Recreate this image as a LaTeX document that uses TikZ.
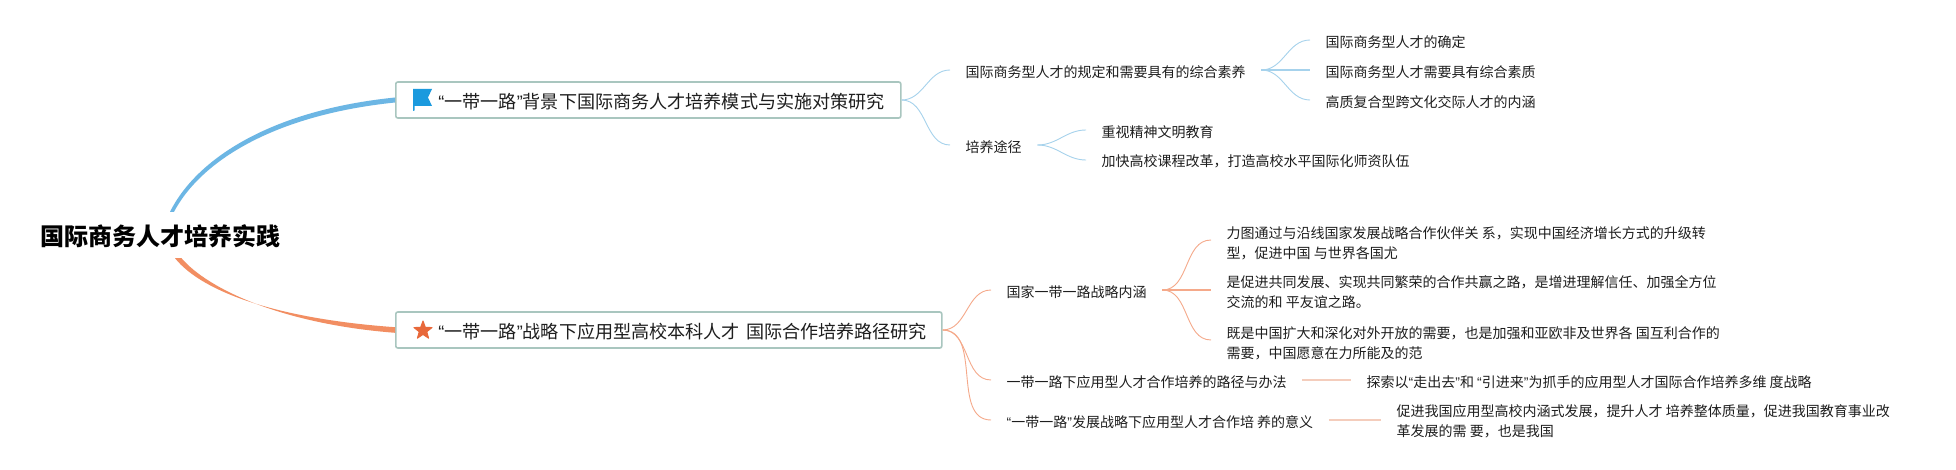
\documentclass[tikz,border=0pt]{standalone}
\usepackage{fontspec}
\setmainfont{Noto Sans CJK SC}
\newfontfamily\latinq{Liberation Sans}
\newcommand{\ql}{{\latinq “}}
\newcommand{\qr}{{\latinq ”}}
\usetikzlibrary{calc,shapes.geometric}
\definecolor{bluecurve}{HTML}{6CB6E4}
\definecolor{bluethin}{HTML}{A6D2EC}
\definecolor{orangecurve}{HTML}{F28E62}
\definecolor{orangethin}{HTML}{F5A98A}
\definecolor{paleline}{HTML}{F4CDBC}
\definecolor{boxline}{HTML}{A9C6BF}
\definecolor{flagblue}{HTML}{1B9ADE}
\definecolor{staror}{HTML}{E8683A}
\definecolor{ink}{HTML}{1E1E1E}
\tikzset{
  x=1pt,y=-1pt,
  topic/.style={anchor=west,inner xsep=15.5pt,inner ysep=0pt,align=left,text=ink,font=\fontsize{14}{20}\selectfont},
  mainbox/.style={draw=boxline,line width=1.6pt,rounded corners=2pt,fill=white,anchor=west,inner xsep=0pt,inner ysep=0pt,align=left,minimum height=36pt,text=ink,font=\fontsize{18.1}{22}\selectfont},
  rootnode/.style={inner sep=0pt,minimum height=46pt,text=black,font=\fontsize{24}{30}\bfseries\selectfont},
  thinblue/.style={draw=bluethin,line width=0.9pt},
  thinorange/.style={draw=orangethin,line width=0.9pt},
  flatblue/.style={draw=bluethin,line width=1.6pt},
  flatorange/.style={draw=paleline,line width=1.8pt},
}
\begin{document}
\begin{tikzpicture}
\useasboundingbox (0,0) rectangle (1956,470);
\fill[white] (0,0) rectangle (1956,470);

\node[rootnode] (root) at (160.5,235) {\raisebox{-10.8pt}[0pt][0pt]{国际商务人才培养实践}};

\node[mainbox,text width=505pt] (b1) at (395,100) {\hspace*{42.6pt}\raisebox{-8.5pt}[0pt][0pt]{\ql 一带一路\qr 背景下国际商务人才培养模式与实施对策研究}};
\node[mainbox,text width=546pt] (b2) at (395,330) {\hspace*{42.6pt}\raisebox{-8.5pt}[0pt][0pt]{\ql 一带一路\qr 战略下应用型高校本科人才 国际合作培养路径研究}};

% main tapered branches
\fill[bluecurve] ([xshift=9.5pt]root.north) .. controls (197,158) and (272,110) .. ([yshift=2.5pt]b1.west)
  -- ([yshift=-2.5pt]b1.west) .. controls (274,115) and (201,161) .. ([xshift=13.5pt]root.north) -- cycle;
\fill[orangecurve] ([xshift=14.5pt]root.south) .. controls (203,293) and (280,319) .. ([yshift=2.8pt]b2.west)
  -- ([yshift=-2.8pt]b2.west) .. controls (282,324) and (208,289) .. ([xshift=21pt]root.south) -- cycle;

% flag icon
\fill[flagblue] (413,89) -- (432,89) -- (428,97.5) -- (432,106) -- (414.6,106) -- (414.6,110.4) -- (413,111) -- cycle;
% star icon
\node[star,star points=5,star point ratio=2.4,fill=staror,draw=staror,line join=round,line width=1pt,minimum size=19pt,inner sep=0pt] (staricon) at (423,330.5) {};

% upper branch
\node[topic] (a1) at (950,71.7) {国际商务型人才的规定和需要具有的综合素养};
\node[topic] (a2) at (950,146.7) {培养途径};
\node[topic] (a11) at (1310,41.7) {国际商务型人才的确定};
\node[topic] (a12) at (1310,71.7) {国际商务型人才需要具有综合素质};
\node[topic] (a13) at (1310,101.7) {高质复合型跨文化交际人才的内涵};
\node[topic] (a21) at (1086,131.7) {重视精神文明教育};
\node[topic] (a22) at (1086,161.7) {加快高校课程改革，打造高校水平国际化师资队伍};

\draw[thinblue] (b1.east) to[out=0,in=180] ([yshift=1.7pt]a1.west);
\draw[thinblue] (b1.east) to[out=0,in=180] ([yshift=1.7pt]a2.west);
\draw[thinblue] ([yshift=1.7pt]a1.east) to[out=0,in=180] ([yshift=1.7pt]a11.west);
\draw[flatblue] ([yshift=1.7pt]a1.east) -- ([yshift=1.7pt]a12.west);
\draw[thinblue] ([yshift=1.7pt]a1.east) to[out=0,in=180] ([yshift=1.7pt]a13.west);
\draw[thinblue] ([yshift=1.7pt]a2.east) to[out=0,in=180] ([yshift=1.7pt]a21.west);
\draw[thinblue] ([yshift=1.7pt]a2.east) to[out=0,in=180] ([yshift=1.7pt]a22.west);

% lower branch
\node[topic] (c1) at (991,291.7) {国家一带一路战略内涵};
\node[topic] (c2) at (991,381.7) {一带一路下应用型人才合作培养的路径与办法};
\node[topic] (c3) at (991,421.7) {\ql 一带一路\qr 发展战略下应用型人才合作培 养的意义};
\node[topic] (c11) at (1211,243.2) {力图通过与沿线国家发展战略合作伙伴关 系，实现中国经济增长方式的升级转\\型，促进中国 与世界各国尤};
\node[topic] (c12) at (1211,292.2) {是促进共同发展、实现共同繁荣的合作共赢之路，是增进理解信任、加强全方位\\交流的和 平友谊之路。};
\node[topic] (c13) at (1211,343) {既是中国扩大和深化对外开放的需要，也是加强和亚欧非及世界各 国互利合作的\\需要，中国愿意在力所能及的范};
\node[topic] (c21) at (1351,381.7) {探索以\ql 走出去\qr 和 \ql 引进来\qr 为抓手的应用型人才国际合作培养多维 度战略};
\node[topic] (c31) at (1381,421.7) {促进我国应用型高校内涵式发展，提升人才 培养整体质量，促进我国教育事业改\\革发展的需 要，也是我国};

\draw[thinorange] (b2.east) to[out=0,in=180] ([yshift=1.7pt]c1.west);
\draw[thinorange] (b2.east) to[out=0,in=180] ([yshift=1.7pt]c2.west);
\draw[thinorange] (b2.east) to[out=0,in=180] ([yshift=1.7pt]c3.west);
\draw[thinorange] ([yshift=1.7pt]c1.east) to[out=0,in=180] ([yshift=3.2pt]c11.west);
\draw[flatorange,draw=orangethin,line width=1.4pt] ([yshift=1.7pt]c1.east) -- ([yshift=2.2pt]c12.west);
\draw[thinorange] ([yshift=1.7pt]c1.east) to[out=0,in=180] ([yshift=3pt]c13.west);
\draw[flatorange] ([yshift=1.7pt]c2.east) -- ([yshift=1.7pt]c21.west);
\draw[flatorange] ([yshift=1.7pt]c3.east) -- ([yshift=1.7pt]c31.west);
\end{tikzpicture}
\end{document}
